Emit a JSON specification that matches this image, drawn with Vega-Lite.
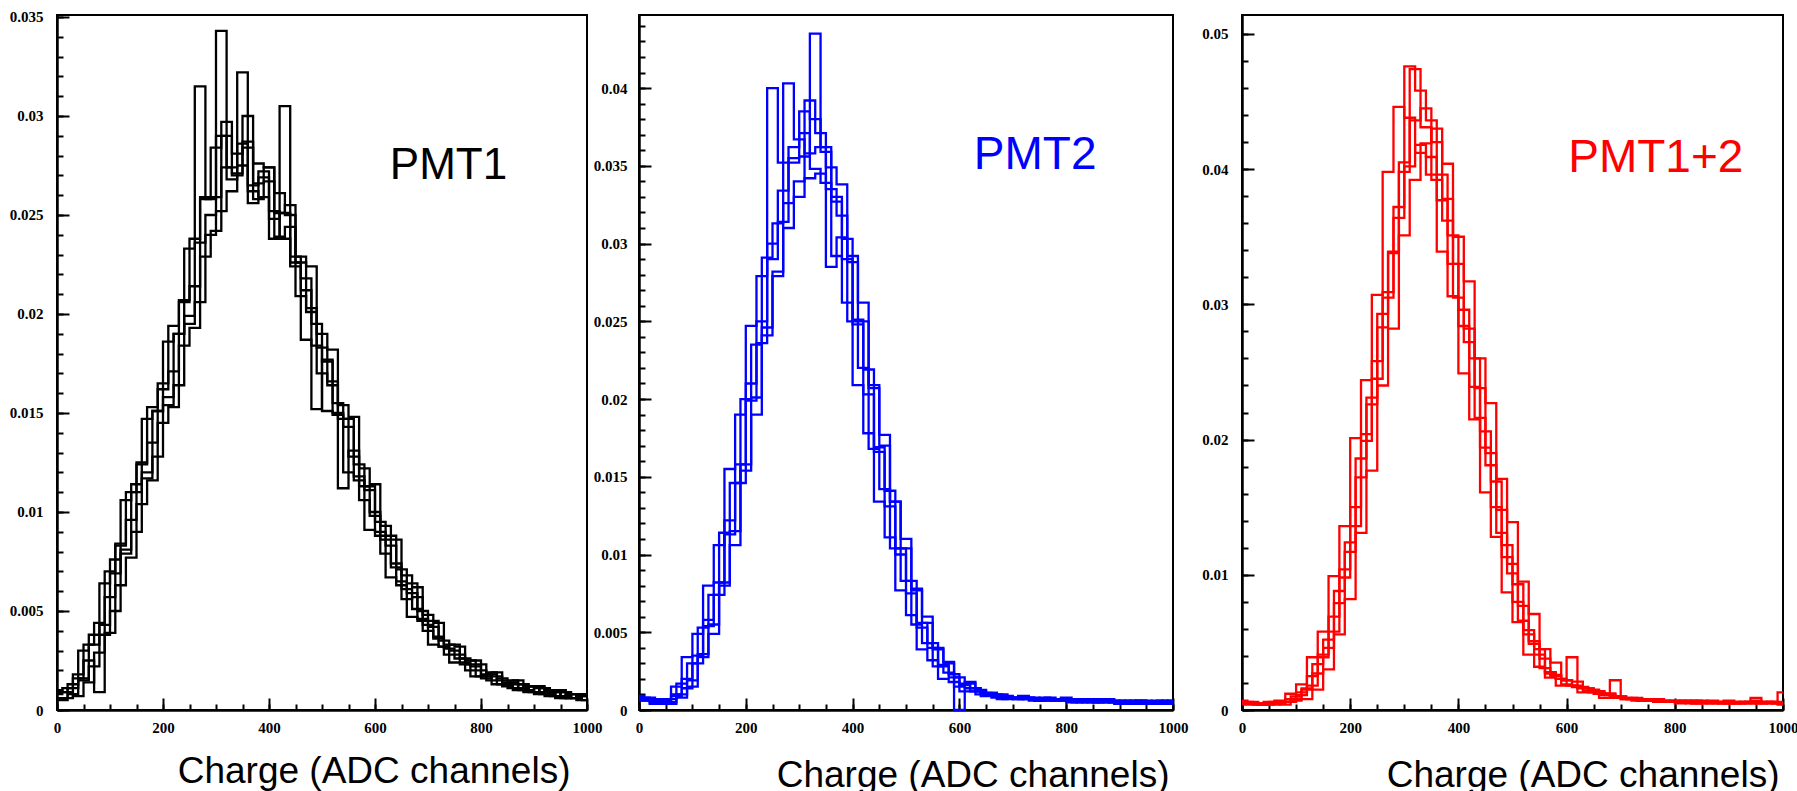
{
"$schema":"https://vega.github.io/schema/vega-lite/v6.json",
"padding":{"left":8,"top":8,"right":0,"bottom":0},
"background":"white",
"config":{
 "view":{"stroke":"black","strokeWidth":2},
 "axis":{"domainColor":"black","domainWidth":2.5,"tickColor":"black","tickWidth":2,"labelFont":"Liberation Serif","labelFontWeight":"bold","labelFontSize":15,"labelColor":"black","grid":false,"labelOverlap":false,"labelBound":false,"labelFlush":false}
},
"datasets":{
"p1":[
{"x":0,"a":0.0009,"b":0.0005,"e":0.0006,"c":0.0006,"d":0.0010,"f":0.0008},
{"x":10,"c":0.0006,"d":0.0009,"f":0.0011},
{"x":20,"a":0.0013,"b":0.0011,"e":0.0008},
{"x":30,"c":0.0018,"d":0.0007,"f":0.0016},
{"x":40,"a":0.0030,"b":0.0016,"e":0.0015},
{"x":50,"c":0.0025,"d":0.0014,"f":0.0033},
{"x":60,"a":0.0038,"b":0.0033,"e":0.0022},
{"x":70,"c":0.0009,"d":0.0029,"f":0.0044},
{"x":80,"a":0.0064,"b":0.0043,"e":0.0038},
{"x":90,"c":0.0057,"d":0.0039,"f":0.0070},
{"x":100,"a":0.0076,"b":0.0069,"e":0.0050},
{"x":110,"c":0.0084,"d":0.0063,"f":0.0083},
{"x":120,"a":0.0106,"b":0.0081,"e":0.0079},
{"x":130,"c":0.0096,"d":0.0077,"f":0.0110},
{"x":140,"a":0.0114,"b":0.0110,"e":0.0090},
{"x":150,"c":0.0125,"d":0.0104,"f":0.0124},
{"x":160,"a":0.0147,"b":0.0120,"e":0.0117},
{"x":170,"c":0.0135,"d":0.0116,"f":0.0153},
{"x":180,"a":0.0151,"b":0.0151,"e":0.0128},
{"x":190,"c":0.0165,"d":0.0145,"f":0.0162},
{"x":200,"a":0.0186,"b":0.0158,"e":0.0154},
{"x":210,"c":0.0171,"d":0.0153,"f":0.0194},
{"x":220,"a":0.0190,"b":0.0190,"e":0.0164},
{"x":230,"c":0.0207,"d":0.0184,"f":0.0206},
{"x":240,"a":0.0233,"b":0.0199,"e":0.0195},
{"x":250,"c":0.0214,"d":0.0193,"f":0.0238},
{"x":260,"a":0.0315,"b":0.0236,"e":0.0206},
{"x":270,"c":0.0258,"d":0.0229,"f":0.0259},
{"x":280,"a":0.0258,"b":0.0250,"e":0.0240},
{"x":290,"c":0.0259,"d":0.0242,"f":0.0284},
{"x":300,"a":0.0290,"b":0.0343,"e":0.0252},
{"x":310,"c":0.0290,"d":0.0274,"f":0.0297},
{"x":320,"a":0.0268,"b":0.0274,"e":0.0262},
{"x":330,"c":0.0270,"d":0.0271,"f":0.0281},
{"x":340,"a":0.0286,"b":0.0322,"e":0.0275},
{"x":350,"c":0.0284,"d":0.0287,"f":0.0300},
{"x":360,"a":0.0256,"b":0.0265,"e":0.0262},
{"x":370,"c":0.0258,"d":0.0266,"f":0.0276},
{"x":380,"a":0.0269,"b":0.0272,"e":0.0259},
{"x":390,"c":0.0267,"d":0.0274,"f":0.0274},
{"x":400,"a":0.0238,"b":0.0248,"e":0.0252},
{"x":410,"c":0.0239,"d":0.0251,"f":0.0261},
{"x":420,"a":0.0305,"b":0.0251,"e":0.0238},
{"x":430,"c":0.0244,"d":0.0255,"f":0.0250},
{"x":440,"a":0.0226,"b":0.0224,"e":0.0229},
{"x":450,"c":0.0209,"d":0.0229,"f":0.0226},
{"x":460,"a":0.0187,"b":0.0218,"e":0.0212},
{"x":470,"c":0.0203,"d":0.0224,"f":0.0201},
{"x":480,"a":0.0184,"b":0.0152,"e":0.0195},
{"x":490,"c":0.0170,"d":0.0190,"f":0.0183},
{"x":500,"a":0.0151,"b":0.0177,"e":0.0176},
{"x":510,"c":0.0166,"d":0.0182,"f":0.0164},
{"x":520,"a":0.0149,"b":0.0150,"e":0.0155},
{"x":530,"c":0.0112,"d":0.0154,"f":0.0147},
{"x":540,"a":0.0120,"b":0.0143,"e":0.0147},
{"x":550,"c":0.0131,"d":0.0148,"f":0.0128},
{"x":560,"a":0.0116,"b":0.0118,"e":0.0124},
{"x":570,"c":0.0106,"d":0.0122,"f":0.0113},
{"x":580,"a":0.0091,"b":0.0111,"e":0.0113},
{"x":590,"c":0.0100,"d":0.0114,"f":0.0098},
{"x":600,"a":0.0088,"b":0.0090,"e":0.0095},
{"x":610,"c":0.0079,"d":0.0093,"f":0.0086},
{"x":620,"a":0.0067,"b":0.0083,"e":0.0088},
{"x":630,"c":0.0074,"d":0.0086,"f":0.0072},
{"x":640,"a":0.0063,"b":0.0065,"e":0.0071},
{"x":650,"c":0.0056,"d":0.0068,"f":0.0061},
{"x":660,"a":0.0047,"b":0.0059,"e":0.0064},
{"x":670,"c":0.0057,"d":0.0062,"f":0.0051},
{"x":680,"a":0.0045,"b":0.0046,"e":0.0050},
{"x":690,"c":0.0040,"d":0.0048,"f":0.0043},
{"x":700,"a":0.0033,"b":0.0042,"e":0.0045},
{"x":710,"c":0.0037,"d":0.0044,"f":0.0036},
{"x":720,"a":0.0032,"b":0.0032,"e":0.0035},
{"x":730,"c":0.0028,"d":0.0033,"f":0.0031},
{"x":740,"a":0.0024,"b":0.0030,"e":0.0033},
{"x":750,"c":0.0028,"d":0.0032,"f":0.0026},
{"x":760,"a":0.0024,"b":0.0023,"e":0.0026},
{"x":770,"c":0.0020,"d":0.0025,"f":0.0023},
{"x":780,"a":0.0017,"b":0.0022,"e":0.0025},
{"x":790,"c":0.0020,"d":0.0023,"f":0.0017},
{"x":800,"a":0.0018,"b":0.0016,"e":0.0017},
{"x":810,"c":0.0015,"d":0.0019,"f":0.0018},
{"x":820,"a":0.0013,"b":0.0017,"e":0.0019},
{"x":830,"c":0.0016,"d":0.0015,"f":0.0013},
{"x":840,"a":0.0014,"b":0.0012,"e":0.0013},
{"x":850,"c":0.0011,"d":0.0015,"f":0.0014},
{"x":860,"a":0.0010,"b":0.0013,"e":0.0015},
{"x":870,"c":0.0013,"d":0.0011,"f":0.0010},
{"x":880,"a":0.0012,"b":0.0009,"e":0.0010},
{"x":890,"c":0.0009,"d":0.0012,"f":0.0012},
{"x":900,"a":0.0008,"b":0.0011,"e":0.0012},
{"x":910,"c":0.0011,"d":0.0009,"f":0.0008},
{"x":920,"a":0.0010,"b":0.0007,"e":0.0008},
{"x":930,"c":0.0007,"d":0.0010,"f":0.0009},
{"x":940,"a":0.0006,"b":0.0009,"e":0.0010},
{"x":950,"c":0.0009,"d":0.0007,"f":0.0006},
{"x":960,"a":0.0008,"b":0.0006,"e":0.0006},
{"x":970,"c":0.0006,"d":0.0008,"f":0.0008},
{"x":980,"a":0.0005,"b":0.0007,"e":0.0008},
{"x":990,"c":0.0008,"d":0.0005,"f":0.0007},
{"x":1000,"a":0.0005,"b":0.0007,"e":0.0008,"c":0.0008,"d":0.0005,"f":0.0007}
],
"p2":[
{"x":0,"a":0.0007,"b":0.0006,"e":0.0008,"c":0.0007,"d":0.0009,"f":0.0006},
{"x":10,"c":0.0008,"d":0.0007,"f":0.0006},
{"x":20,"a":0.0004,"b":0.0007,"e":0.0005},
{"x":30,"c":0.0006,"d":0.0006,"f":0.0005},
{"x":40,"a":0.0007,"b":0.0004,"e":0.0006},
{"x":50,"c":0.0007,"d":0.0004,"f":0.0005},
{"x":60,"a":0.0015,"b":0.0009,"e":0.0010},
{"x":70,"c":0.0017,"d":0.0008,"f":0.0010},
{"x":80,"a":0.0034,"b":0.0014,"e":0.0020},
{"x":90,"c":0.0030,"d":0.0015,"f":0.0019},
{"x":100,"a":0.0049,"b":0.0030,"e":0.0035},
{"x":110,"c":0.0053,"d":0.0034,"f":0.0036},
{"x":120,"a":0.0080,"b":0.0054,"e":0.0058},
{"x":130,"c":0.0074,"d":0.0049,"f":0.0055},
{"x":140,"a":0.0106,"b":0.0074,"e":0.0082},
{"x":150,"c":0.0114,"d":0.0080,"f":0.0082},
{"x":160,"a":0.0155,"b":0.0113,"e":0.0122},
{"x":170,"c":0.0146,"d":0.0106,"f":0.0115},
{"x":180,"a":0.0190,"b":0.0146,"e":0.0158},
{"x":190,"c":0.0200,"d":0.0154,"f":0.0158},
{"x":200,"a":0.0247,"b":0.0199,"e":0.0210},
{"x":210,"c":0.0235,"d":0.0190,"f":0.0201},
{"x":220,"a":0.0279,"b":0.0236,"e":0.0250},
{"x":230,"c":0.0291,"d":0.0246,"f":0.0241},
{"x":240,"a":0.0400,"b":0.0290,"e":0.0300},
{"x":250,"c":0.0313,"d":0.0279,"f":0.0282},
{"x":260,"a":0.0352,"b":0.0314,"e":0.0334},
{"x":270,"c":0.0403,"d":0.0326,"f":0.0310},
{"x":280,"a":0.0355,"b":0.0352,"e":0.0362},
{"x":290,"c":0.0367,"d":0.0340,"f":0.0330},
{"x":300,"a":0.0371,"b":0.0356,"e":0.0385},
{"x":310,"c":0.0358,"d":0.0392,"f":0.0342},
{"x":320,"a":0.0348,"b":0.0435,"e":0.0380},
{"x":330,"c":0.0362,"d":0.0371,"f":0.0345},
{"x":340,"a":0.0339,"b":0.0359,"e":0.0362},
{"x":350,"c":0.0285,"d":0.0349,"f":0.0335},
{"x":360,"a":0.0292,"b":0.0327,"e":0.0330},
{"x":370,"c":0.0304,"d":0.0338,"f":0.0318},
{"x":380,"a":0.0262,"b":0.0303,"e":0.0290},
{"x":390,"c":0.0250,"d":0.0292,"f":0.0288},
{"x":400,"a":0.0209,"b":0.0251,"e":0.0248},
{"x":410,"c":0.0220,"d":0.0262,"f":0.0250},
{"x":420,"a":0.0178,"b":0.0219,"e":0.0203},
{"x":430,"c":0.0168,"d":0.0209,"f":0.0207},
{"x":440,"a":0.0134,"b":0.0169,"e":0.0166},
{"x":450,"c":0.0142,"d":0.0177,"f":0.0170},
{"x":460,"a":0.0111,"b":0.0141,"e":0.0131},
{"x":470,"c":0.0104,"d":0.0134,"f":0.0134},
{"x":480,"a":0.0077,"b":0.0104,"e":0.0100},
{"x":490,"c":0.0083,"d":0.0110,"f":0.0104},
{"x":500,"a":0.0061,"b":0.0083,"e":0.0075},
{"x":510,"c":0.0055,"d":0.0077,"f":0.0078},
{"x":520,"a":0.0039,"b":0.0056,"e":0.0053},
{"x":530,"c":0.0043,"d":0.0060,"f":0.0056},
{"x":540,"a":0.0032,"b":0.0043,"e":0.0040},
{"x":550,"c":0.0028,"d":0.0039,"f":0.0040},
{"x":560,"a":0.0020,"b":0.0028,"e":0.0029},
{"x":570,"c":0.0024,"d":0.0031,"f":0.0030},
{"x":580,"a":0.0018,"b":0.0023,"e":0.0021},
{"x":590,"c":0.0015,"d":0.0000,"f":0.0021},
{"x":600,"a":0.0012,"b":0.0016,"e":0.0017},
{"x":610,"c":0.0014,"d":0.0018,"f":0.0017},
{"x":620,"a":0.0012,"b":0.0014,"e":0.0012},
{"x":630,"c":0.0010,"d":0.0012,"f":0.0013},
{"x":640,"a":0.0009,"b":0.0010,"e":0.0011},
{"x":650,"c":0.0010,"d":0.0011,"f":0.0011},
{"x":660,"a":0.0009,"b":0.0010,"e":0.0008},
{"x":670,"c":0.0007,"d":0.0010,"f":0.0009},
{"x":680,"a":0.0007,"b":0.0008,"e":0.0009},
{"x":690,"c":0.0008,"d":0.0008,"f":0.0008},
{"x":700,"a":0.0008,"b":0.0007,"e":0.0007},
{"x":710,"c":0.0007,"d":0.0009,"f":0.0008},
{"x":720,"a":0.0007,"b":0.0008,"e":0.0008},
{"x":730,"c":0.0008,"d":0.0007,"f":0.0006},
{"x":740,"a":0.0006,"b":0.0007,"e":0.0006},
{"x":750,"c":0.0006,"d":0.0007,"f":0.0008},
{"x":760,"a":0.0008,"b":0.0006,"e":0.0007},
{"x":770,"c":0.0007,"d":0.0006,"f":0.0006},
{"x":780,"a":0.0006,"b":0.0007,"e":0.0007},
{"x":790,"c":0.0006,"d":0.0008,"f":0.0007},
{"x":800,"a":0.0007,"b":0.0006,"e":0.0005},
{"x":810,"c":0.0007,"d":0.0006,"f":0.0005},
{"x":820,"a":0.0005,"b":0.0006,"e":0.0007},
{"x":830,"c":0.0005,"d":0.0006,"f":0.0007},
{"x":840,"a":0.0007,"b":0.0005,"e":0.0006},
{"x":850,"c":0.0006,"d":0.0005,"f":0.0005},
{"x":860,"a":0.0006,"b":0.0007,"e":0.0005},
{"x":870,"c":0.0006,"d":0.0007,"f":0.0005},
{"x":880,"a":0.0005,"b":0.0005,"e":0.0006},
{"x":890,"c":0.0004,"d":0.0005,"f":0.0006},
{"x":900,"a":0.0006,"b":0.0005,"e":0.0004},
{"x":910,"c":0.0006,"d":0.0005,"f":0.0004},
{"x":920,"a":0.0004,"b":0.0006,"e":0.0005},
{"x":930,"c":0.0005,"d":0.0006,"f":0.0006},
{"x":940,"a":0.0006,"b":0.0004,"e":0.0005},
{"x":950,"c":0.0005,"d":0.0004,"f":0.0005},
{"x":960,"a":0.0005,"b":0.0006,"e":0.0004},
{"x":970,"c":0.0006,"d":0.0005,"f":0.0004},
{"x":980,"a":0.0004,"b":0.0005,"e":0.0006},
{"x":990,"c":0.0005,"d":0.0006,"f":0.0005},
{"x":1000,"a":0.0004,"b":0.0005,"e":0.0006,"c":0.0005,"d":0.0006,"f":0.0005}
],
"p3":[
{"x":0,"a":0.0005,"b":0.0005,"e":0.0006,"c":0.0007,"d":0.0005,"f":0.0004},
{"x":10,"c":0.0005,"d":0.0006,"f":0.0004},
{"x":20,"a":0.0004,"b":0.0005,"e":0.0005},
{"x":30,"c":0.0004,"d":0.0004,"f":0.0005},
{"x":40,"a":0.0006,"b":0.0004,"e":0.0005},
{"x":50,"c":0.0006,"d":0.0005,"f":0.0004},
{"x":60,"a":0.0007,"b":0.0006,"e":0.0005},
{"x":70,"c":0.0006,"d":0.0004,"f":0.0006},
{"x":80,"a":0.0012,"b":0.0006,"e":0.0008},
{"x":90,"c":0.0010,"d":0.0007,"f":0.0008},
{"x":100,"a":0.0019,"b":0.0011,"e":0.0013},
{"x":110,"c":0.0016,"d":0.0008,"f":0.0015},
{"x":120,"a":0.0039,"b":0.0018,"e":0.0025},
{"x":130,"c":0.0034,"d":0.0015,"f":0.0027},
{"x":140,"a":0.0058,"b":0.0039,"e":0.0041},
{"x":150,"c":0.0052,"d":0.0030,"f":0.0046},
{"x":160,"a":0.0099,"b":0.0058,"e":0.0069},
{"x":170,"c":0.0088,"d":0.0056,"f":0.0079},
{"x":180,"a":0.0136,"b":0.0098,"e":0.0104},
{"x":190,"c":0.0124,"d":0.0082,"f":0.0117},
{"x":200,"a":0.0201,"b":0.0136,"e":0.0150},
{"x":210,"c":0.0186,"d":0.0131,"f":0.0172},
{"x":220,"a":0.0244,"b":0.0199,"e":0.0204},
{"x":230,"c":0.0231,"d":0.0177,"f":0.0226},
{"x":240,"a":0.0307,"b":0.0245,"e":0.0258},
{"x":250,"c":0.0293,"d":0.0240,"f":0.0283},
{"x":260,"a":0.0398,"b":0.0305,"e":0.0309},
{"x":270,"c":0.0339,"d":0.0282,"f":0.0338},
{"x":280,"a":0.0446,"b":0.0372,"e":0.0364},
{"x":290,"c":0.0405,"d":0.0351,"f":0.0398},
{"x":300,"a":0.0438,"b":0.0476,"e":0.0402},
{"x":310,"c":0.0474,"d":0.0392,"f":0.0436},
{"x":320,"a":0.0412,"b":0.0458,"e":0.0418},
{"x":330,"c":0.0431,"d":0.0419,"f":0.0445},
{"x":340,"a":0.0396,"b":0.0436,"e":0.0409},
{"x":350,"c":0.0392,"d":0.0430,"f":0.0420},
{"x":360,"a":0.0339,"b":0.0396,"e":0.0377},
{"x":370,"c":0.0362,"d":0.0404,"f":0.0378},
{"x":380,"a":0.0306,"b":0.0351,"e":0.0330},
{"x":390,"c":0.0305,"d":0.0350,"f":0.0330},
{"x":400,"a":0.0249,"b":0.0296,"e":0.0284},
{"x":410,"c":0.0272,"d":0.0317,"f":0.0282},
{"x":420,"a":0.0215,"b":0.0260,"e":0.0239},
{"x":430,"c":0.0216,"d":0.0260,"f":0.0238},
{"x":440,"a":0.0161,"b":0.0206,"e":0.0194},
{"x":450,"c":0.0181,"d":0.0227,"f":0.0190},
{"x":460,"a":0.0128,"b":0.0169,"e":0.0150},
{"x":470,"c":0.0131,"d":0.0171,"f":0.0148},
{"x":480,"a":0.0087,"b":0.0122,"e":0.0113},
{"x":490,"c":0.0101,"d":0.0139,"f":0.0108},
{"x":500,"a":0.0065,"b":0.0093,"e":0.0080},
{"x":510,"c":0.0066,"d":0.0095,"f":0.0077},
{"x":520,"a":0.0041,"b":0.0059,"e":0.0056},
{"x":530,"c":0.0049,"d":0.0071,"f":0.0051},
{"x":540,"a":0.0032,"b":0.0045,"e":0.0041},
{"x":550,"c":0.0031,"d":0.0045,"f":0.0038},
{"x":560,"a":0.0024,"b":0.0028,"e":0.0027},
{"x":570,"c":0.0026,"d":0.0035,"f":0.0025},
{"x":580,"a":0.0018,"b":0.0023,"e":0.0023},
{"x":590,"c":0.0019,"d":0.0022,"f":0.0022},
{"x":600,"a":0.0018,"b":0.0039,"e":0.0018},
{"x":610,"c":0.0018,"d":0.0021,"f":0.0017},
{"x":620,"a":0.0013,"b":0.0016,"e":0.0017},
{"x":630,"c":0.0014,"d":0.0016,"f":0.0016},
{"x":640,"a":0.0013,"b":0.0015,"e":0.0013},
{"x":650,"c":0.0013,"d":0.0014,"f":0.0012},
{"x":660,"a":0.0009,"b":0.0011,"e":0.0012},
{"x":670,"c":0.0012,"d":0.0012,"f":0.0011},
{"x":680,"a":0.0010,"b":0.0022,"e":0.0009},
{"x":690,"c":0.0009,"d":0.0010,"f":0.0010},
{"x":700,"a":0.0008,"b":0.0008,"e":0.0009},
{"x":710,"c":0.0008,"d":0.0009,"f":0.0008},
{"x":720,"a":0.0007,"b":0.0009,"e":0.0008},
{"x":730,"c":0.0007,"d":0.0008,"f":0.0007},
{"x":740,"a":0.0008,"b":0.0007,"e":0.0007},
{"x":750,"c":0.0008,"d":0.0007,"f":0.0008},
{"x":760,"a":0.0006,"b":0.0008,"e":0.0007},
{"x":770,"c":0.0006,"d":0.0007,"f":0.0006},
{"x":780,"a":0.0007,"b":0.0006,"e":0.0006},
{"x":790,"c":0.0007,"d":0.0006,"f":0.0006},
{"x":800,"a":0.0005,"b":0.0007,"e":0.0006},
{"x":810,"c":0.0006,"d":0.0006,"f":0.0007},
{"x":820,"a":0.0006,"b":0.0005,"e":0.0007},
{"x":830,"c":0.0005,"d":0.0007,"f":0.0005},
{"x":840,"a":0.0007,"b":0.0006,"e":0.0005},
{"x":850,"c":0.0006,"d":0.0005,"f":0.0006},
{"x":860,"a":0.0005,"b":0.0007,"e":0.0006},
{"x":870,"c":0.0005,"d":0.0006,"f":0.0006},
{"x":880,"a":0.0006,"b":0.0005,"e":0.0005},
{"x":890,"c":0.0007,"d":0.0005,"f":0.0005},
{"x":900,"a":0.0005,"b":0.0006,"e":0.0005},
{"x":910,"c":0.0005,"d":0.0006,"f":0.0005},
{"x":920,"a":0.0006,"b":0.0005,"e":0.0006},
{"x":930,"c":0.0006,"d":0.0005,"f":0.0006},
{"x":940,"a":0.0007,"b":0.0009,"e":0.0005},
{"x":950,"c":0.0005,"d":0.0006,"f":0.0005},
{"x":960,"a":0.0005,"b":0.0006,"e":0.0006},
{"x":970,"c":0.0006,"d":0.0005,"f":0.0006},
{"x":980,"a":0.0006,"b":0.0005,"e":0.0005},
{"x":990,"c":0.0013,"d":0.0004,"f":0.0005},
{"x":1000,"a":0.0006,"b":0.0005,"e":0.0005,"c":0.0013,"d":0.0004,"f":0.0005}
]
},
"spacing":-11,
"bounds":"full",
"hconcat":[
{"width":530,"height":695,
 "resolve":{"axis":{"x":"independent","y":"independent"}},
 "layer":[
  {"data":{"name":"p1"},
   "transform":[{"fold":["a","b","c","d","e","f"],"as":["run","v"]},{"filter":"isValid(datum.v)"}],
   "mark":{"type":"line","interpolate":"step-after","color":"black","strokeWidth":2.3},
   "encoding":{
    "x":{"field":"x","type":"quantitative","scale":{"domain":[0,1000],"nice":false},
      "axis":{"orient":"bottom","values":[0,200,400,600,800,1000],"format":"d","tickSize":-12,"labelPadding":22,
        "title":"Charge (ADC channels)","titleFont":"Liberation Sans","titleFontSize":37,"titleFontWeight":"normal","titleColor":"black","titleAlign":"right","titleBaseline":"alphabetic","titleX":513,"titleY":72}},
    "y":{"field":"v","type":"quantitative","scale":{"domain":[0,0.0351],"nice":false},
      "axis":{"orient":"left","values":[0,0.005,0.01,0.015,0.02,0.025,0.03,0.035],"format":"~g","tickSize":-12,"labelPadding":26,"title":null}},
    "detail":{"field":"run"}
   }},
  {"data":{"values":[{"label":"PMT1"}]},
   "mark":{"type":"text","align":"left","baseline":"alphabetic","font":"Liberation Sans","fontSize":44,"color":"black"},
   "encoding":{
    "x":{"datum":628,"type":"quantitative","axis":{"orient":"bottom","values":[0,50,100,150,200,250,300,350,400,450,500,550,600,650,700,750,800,850,900,950,1000],"labels":false,"domain":false,"tickSize":-6,"title":null}},
    "y":{"datum":0.0268,"type":"quantitative","axis":{"orient":"left","values":[0,0.001,0.002,0.003,0.004,0.005,0.006,0.007,0.008,0.009,0.010,0.011,0.012,0.013,0.014,0.015,0.016,0.017,0.018,0.019,0.020,0.021,0.022,0.023,0.024,0.025,0.026,0.027,0.028,0.029,0.030,0.031,0.032,0.033,0.034,0.035],"labels":false,"domain":false,"tickSize":-6,"title":null}},
    "text":{"field":"label"}}}
 ]},
{"width":534,"height":695,
 "resolve":{"axis":{"x":"independent","y":"independent"}},
 "layer":[
  {"data":{"name":"p2"},
   "transform":[{"fold":["a","b","c","d","e","f"],"as":["run","v"]},{"filter":"isValid(datum.v)"}],
   "mark":{"type":"line","interpolate":"step-after","color":"#0000ff","strokeWidth":2.3},
   "encoding":{
    "x":{"field":"x","type":"quantitative","scale":{"domain":[0,1000],"nice":false},
      "axis":{"orient":"bottom","values":[0,200,400,600,800,1000],"format":"d","tickSize":-12,"labelPadding":22,
        "title":"Charge (ADC channels)","titleFont":"Liberation Sans","titleFontSize":37,"titleFontWeight":"normal","titleColor":"black","titleAlign":"right","titleBaseline":"alphabetic","titleX":530,"titleY":76}},
    "y":{"field":"v","type":"quantitative","scale":{"domain":[0,0.0447],"nice":false},
      "axis":{"orient":"left","values":[0,0.005,0.01,0.015,0.02,0.025,0.03,0.035,0.04],"format":"~g","tickSize":-12,"labelPadding":24,"title":null}},
    "detail":{"field":"run"}
   }},
  {"data":{"values":[{"label":"PMT2"}]},
   "mark":{"type":"text","align":"left","baseline":"alphabetic","font":"Liberation Sans","fontSize":46,"color":"#0000ff"},
   "encoding":{
    "x":{"datum":627,"type":"quantitative","axis":{"orient":"bottom","values":[0,50,100,150,200,250,300,350,400,450,500,550,600,650,700,750,800,850,900,950,1000],"labels":false,"domain":false,"tickSize":-6,"title":null}},
    "y":{"datum":0.0348,"type":"quantitative","axis":{"orient":"left","values":[0,0.001,0.002,0.003,0.004,0.005,0.006,0.007,0.008,0.009,0.010,0.011,0.012,0.013,0.014,0.015,0.016,0.017,0.018,0.019,0.020,0.021,0.022,0.023,0.024,0.025,0.026,0.027,0.028,0.029,0.030,0.031,0.032,0.033,0.034,0.035,0.036,0.037,0.038,0.039,0.040,0.041,0.042,0.043,0.044],"labels":false,"domain":false,"tickSize":-6,"title":null}},
    "text":{"field":"label"}}}
 ]},
{"width":541,"height":695,
 "resolve":{"axis":{"x":"independent","y":"independent"}},
 "layer":[
  {"data":{"name":"p3"},
   "transform":[{"fold":["a","b","c","d","e","f"],"as":["run","v"]},{"filter":"isValid(datum.v)"}],
   "mark":{"type":"line","interpolate":"step-after","color":"#ff0000","strokeWidth":2.3},
   "encoding":{
    "x":{"field":"x","type":"quantitative","scale":{"domain":[0,1000],"nice":false},
      "axis":{"orient":"bottom","values":[0,200,400,600,800,1000],"format":"d","tickSize":-12,"labelPadding":22,
        "title":"Charge (ADC channels)","titleFont":"Liberation Sans","titleFontSize":37,"titleFontWeight":"normal","titleColor":"black","titleAlign":"right","titleBaseline":"alphabetic","titleX":537,"titleY":76}},
    "y":{"field":"v","type":"quantitative","scale":{"domain":[0,0.0514],"nice":false},
      "axis":{"orient":"left","values":[0,0.01,0.02,0.03,0.04,0.05],"format":"~g","tickSize":-12,"labelPadding":26,"title":null}},
    "detail":{"field":"run"}
   }},
  {"data":{"values":[{"label":"PMT1+2"}]},
   "mark":{"type":"text","align":"left","baseline":"alphabetic","font":"Liberation Sans","fontSize":46,"color":"#ff0000"},
   "encoding":{
    "x":{"datum":603,"type":"quantitative","axis":{"orient":"bottom","values":[0,50,100,150,200,250,300,350,400,450,500,550,600,650,700,750,800,850,900,950,1000],"labels":false,"domain":false,"tickSize":-6,"title":null}},
    "y":{"datum":0.0398,"type":"quantitative","axis":{"orient":"left","values":[0,0.002,0.004,0.006,0.008,0.010,0.012,0.014,0.016,0.018,0.020,0.022,0.024,0.026,0.028,0.030,0.032,0.034,0.036,0.038,0.040,0.042,0.044,0.046,0.048,0.050],"labels":false,"domain":false,"tickSize":-6,"title":".","titleFontSize":10,"titlePadding":52,"titleOpacity":0}},
    "text":{"field":"label"}}}
 ]}
]
}
